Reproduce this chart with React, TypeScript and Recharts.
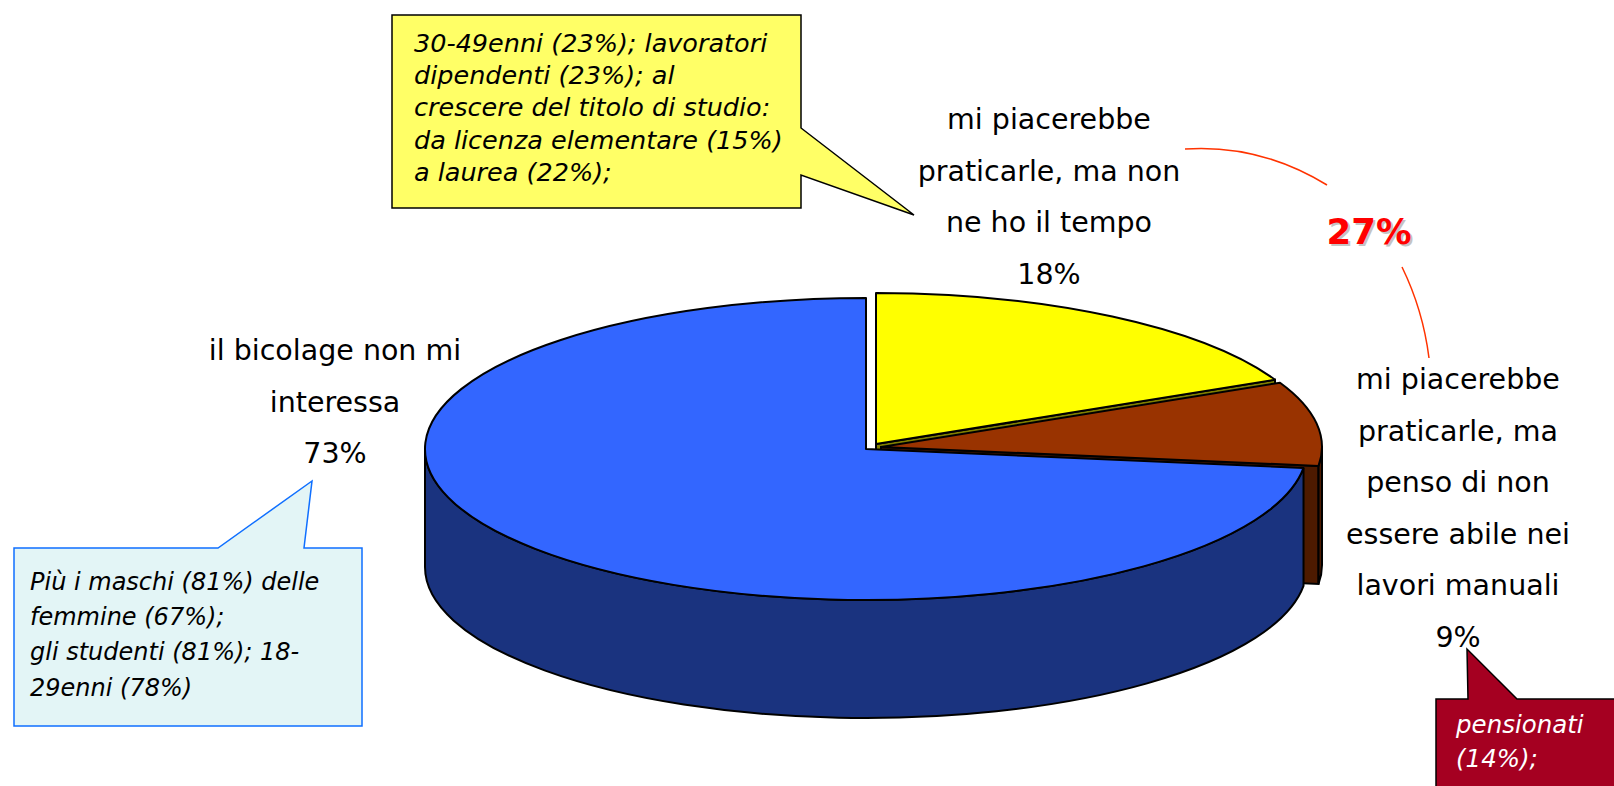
import React from 'react';
import { PieChart, Pie } from 'recharts';

const categories = ['praticarle, non ho tempo', 'praticarle, non abile', 'non mi interessa'];
const values = [18, 9, 73];
const labelLines = [
  ['mi piacerebbe', 'praticarle, ma non', 'ne ho il tempo'],
  ['mi piacerebbe', 'praticarle, ma', 'penso di non', 'essere abile nei', 'lavori manuali'],
  ['il bicolage non mi', 'interessa'],
];

const topColors = ['#ffff00', '#993300', '#3366ff'];
const sideColors = ['#808000', '#4d1a00', '#1a337f'];
const explode = [[6, -4], [11, -1], [-4, 1]];
const labelPos = [[1049, 129], [1458, 389], [335, 360]];
const lineGap = 51.6;

const RATIO = 151 / 441; // tilt of the pie
const DEPTH = 118;
const FONT = '"DejaVu Sans", sans-serif';

const rad = (a: number) => (a * Math.PI) / 180;

const chartData = categories.map((name, i) => ({ name, value: values[i] }));

const Slice3D = (props: any) => {
  const { cx, cy, outerRadius, startAngle, endAngle, name } = props;
  const i = categories.indexOf(name);
  const x0 = cx + explode[i][0];
  const y0 = cy + explode[i][1];
  const rx = outerRadius;
  const ry = outerRadius * RATIO;
  const pt = (a: number) => [x0 + rx * Math.cos(rad(a)), y0 - ry * Math.sin(rad(a))];

  const [sx, sy] = pt(startAngle);
  const [ex, ey] = pt(endAngle);
  const large = startAngle - endAngle > 180 ? 1 : 0;
  const top = `M${x0},${y0} L${sx},${sy} A${rx},${ry} 0 ${large} 1 ${ex},${ey} Z`;

  // part of the rim that faces the viewer
  const hi = Math.min(startAngle, 0);
  const lo = Math.max(endAngle, -180);
  let rim = '';
  if (hi > lo) {
    const [ax, ay] = pt(hi);
    const [bx, by] = pt(lo);
    rim = `M${ax},${ay} A${rx},${ry} 0 0 1 ${bx},${by} L${bx},${by + DEPTH} A${rx},${ry} 0 0 0 ${ax},${ay + DEPTH} Z`;
  }
  const showCut = Math.cos(rad(endAngle)) > 0.01;
  const cut = `M${x0},${y0} L${ex},${ey} L${ex},${ey + DEPTH} L${x0},${y0 + DEPTH} Z`;

  return (
    <g>
      {showCut && <path d={cut} fill={sideColors[i]} stroke="#000" strokeWidth={2} />}
      {rim && <path d={rim} fill={sideColors[i]} stroke="#000" strokeWidth={2} />}
      <path d={top} fill={topColors[i]} stroke="#000" strokeWidth={2} strokeLinejoin="round" />
    </g>
  );
};

const SliceLabel = (props: any) => {
  const i = categories.indexOf(props.name);
  const lines = [...labelLines[i], `${props.value}%`];
  return (
    <text fontFamily={FONT} fontSize={28.5} fill="#000" textAnchor="middle">
      {lines.map((t, k) => (
        <tspan key={k} x={labelPos[i][0]} y={labelPos[i][1] + k * lineGap}>
          {t}
        </tspan>
      ))}
    </text>
  );
};

const Note = ({ x, y, lines, fill = '#000', gap, size }: any) => (
  <text fontFamily={FONT} fontStyle="italic" fontSize={size} fill={fill}>
    {lines.map((t: string, k: number) => (
      <tspan key={k} x={x} y={y + k * gap}>
        {t}
      </tspan>
    ))}
  </text>
);

export default function App() {
  return (
    <div style={{ position: 'absolute', left: 0, top: 0, width: 1614, height: 786, overflow: 'hidden', background: '#fff' }}>
      <PieChart width={1614} height={786} margin={{ top: 0, right: 0, bottom: 0, left: 0 }}>
        <Pie
          data={chartData}
          dataKey="value"
          nameKey="name"
          cx={870}
          cy={448}
          outerRadius={441}
          startAngle={90}
          endAngle={-270}
          stroke="none"
          shape={Slice3D}
          inactiveShape={Slice3D}
          label={SliceLabel}
          labelLine={false}
          isAnimationActive={false}
        />

        {/* yellow callout */}
        <path d="M392,15 H801 V128 L914,215 L801,175 V208 H392 Z" fill="#ffff66" stroke="#000" strokeWidth={1.5} />
        <Note
          x={414}
          y={52}
          gap={32.2}
          size={25.5}
          lines={['30-49enni (23%); lavoratori', 'dipendenti (23%); al', 'crescere del titolo di studio:', 'da licenza elementare (15%)', 'a laurea (22%);']}
        />

        {/* light blue callout */}
        <path d="M14,548 H218 L312,481 L304,548 H362 V726 H14 Z" fill="#e3f5f6" stroke="#0f6fff" strokeWidth={1.5} />
        <Note
          x={30}
          y={590}
          gap={35.2}
          size={24}
          lines={['Più i maschi (81%) delle', 'femmine (67%);', 'gli studenti (81%); 18-', '29enni (78%)']}
        />

        {/* dark red callout */}
        <path d="M1436,800 V699 H1468 L1467,649 L1517,699 H1630 V800 Z" fill="#a50021" stroke="#000" strokeWidth={1.5} />
        <Note x={1456} y={733} gap={34} size={24.5} fill="#fff" lines={['pensionati', '(14%);']} />

        {/* 27% bracket */}
        <path d="M1185,149 Q1260,144 1327,185" fill="none" stroke="#ff3300" strokeWidth={1.5} />
        <path d="M1402,267 Q1423,310 1429,358" fill="none" stroke="#ff3300" strokeWidth={1.5} />
        <text x={1328.5} y={246} fontFamily={FONT} fontWeight={700} fontSize={35.5} fill="#c4c4c4">27%</text>
        <text x={1326.5} y={244} fontFamily={FONT} fontWeight={700} fontSize={35.5} fill="#ff0000">27%</text>
      </PieChart>
    </div>
  );
}
